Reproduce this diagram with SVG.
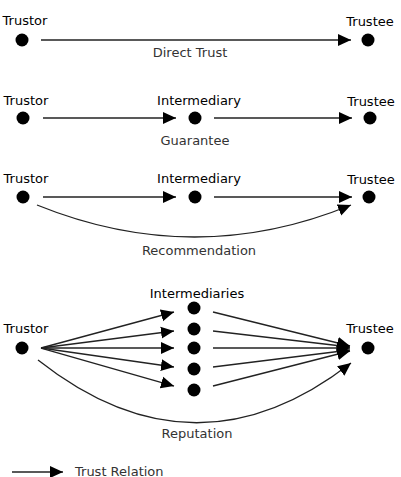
<svg xmlns="http://www.w3.org/2000/svg" width="401" height="477" viewBox="0 0 401 477">
<style>
text{font-family:"DejaVu Sans",Verdana,sans-serif;font-size:13px;fill:#000;text-anchor:middle}
.lab{fill:#333}
.dot{fill:#000}
.e{stroke:#222;stroke-width:1.3;fill:none;marker-end:url(#ah)}
</style>
<defs>
<marker id="ah" markerUnits="userSpaceOnUse" markerWidth="14" markerHeight="14" refX="13" refY="6" orient="auto" viewBox="0 0 14 12">
<path d="M0,0 L13,6 L0,12 z" fill="#000"/>
</marker>
</defs>
<g id="connectors">
<path class="e" d="M41,40 H351"/>
<path class="e" d="M43,118 H176"/>
<path class="e" d="M214,118 H352"/>
<path class="e" d="M43,197 H176"/>
<path class="e" d="M214,197 H352"/>
<path class="e" d="M37,205 Q195,269 351,205"/>
<path class="e" d="M41,348 L174,312"/>
<path class="e" d="M41,348 L174,331"/>
<path class="e" d="M41,348 L174,348"/>
<path class="e" d="M41,348 L174,367"/>
<path class="e" d="M41,348 L174,386"/>
<path class="e" d="M213,312 L350,346"/>
<path class="e" d="M213,331 L350,347"/>
<path class="e" d="M213,348 L350,348"/>
<path class="e" d="M213,367 L350,350"/>
<path class="e" d="M213,386 L350,351"/>
<path class="e" d="M38,360 Q195,484 351,363"/>
<path class="e" d="M12,472 H63"/>
</g>
<g id="r1-trustor"><circle class="dot" cx="22" cy="40" r="6.5"/><text x="25" y="25">Trustor</text></g>
<g id="r1-trustee"><circle class="dot" cx="368" cy="40" r="6.5"/><text x="370" y="25.5">Trustee</text></g>
<g id="r1-label"><text class="lab" x="190" y="56.5">Direct Trust</text></g>
<g id="r2-trustor"><circle class="dot" cx="23" cy="118" r="6.5"/><text x="26" y="104.5">Trustor</text></g>
<g id="r2-inter"><circle class="dot" cx="195" cy="118" r="6.5"/><text x="199" y="104.5">Intermediary</text></g>
<g id="r2-trustee"><circle class="dot" cx="370" cy="118" r="6.5"/><text x="371" y="105.5">Trustee</text></g>
<g id="r2-label"><text class="lab" x="195" y="144.5">Guarantee</text></g>
<g id="r3-trustor"><circle class="dot" cx="23" cy="197" r="6.5"/><text x="26" y="183">Trustor</text></g>
<g id="r3-inter"><circle class="dot" cx="195" cy="197" r="6.5"/><text x="199" y="183">Intermediary</text></g>
<g id="r3-trustee"><circle class="dot" cx="369" cy="197" r="6.5"/><text x="371" y="183.5">Trustee</text></g>
<g id="r3-label"><text class="lab" x="199" y="254.5">Recommendation</text></g>
<g id="r4-trustor"><circle class="dot" cx="22" cy="348" r="6.5"/><text x="26" y="332.5">Trustor</text></g>
<g id="r4-inters">
<circle class="dot" cx="194" cy="308" r="6.5"/>
<circle class="dot" cx="194" cy="329" r="6.5"/>
<circle class="dot" cx="194" cy="348" r="6.5"/>
<circle class="dot" cx="194" cy="369" r="6.5"/>
<circle class="dot" cx="194" cy="390" r="6.5"/>
<text x="197" y="297.5">Intermediaries</text>
</g>
<g id="r4-trustee"><circle class="dot" cx="368" cy="348" r="6.5"/><text x="370" y="332.5">Trustee</text></g>
<g id="r4-label"><text class="lab" x="197" y="437.5">Reputation</text></g>
<g id="legend"><text class="lab" x="75" y="475.5" style="text-anchor:start">Trust Relation</text></g>
</svg>
